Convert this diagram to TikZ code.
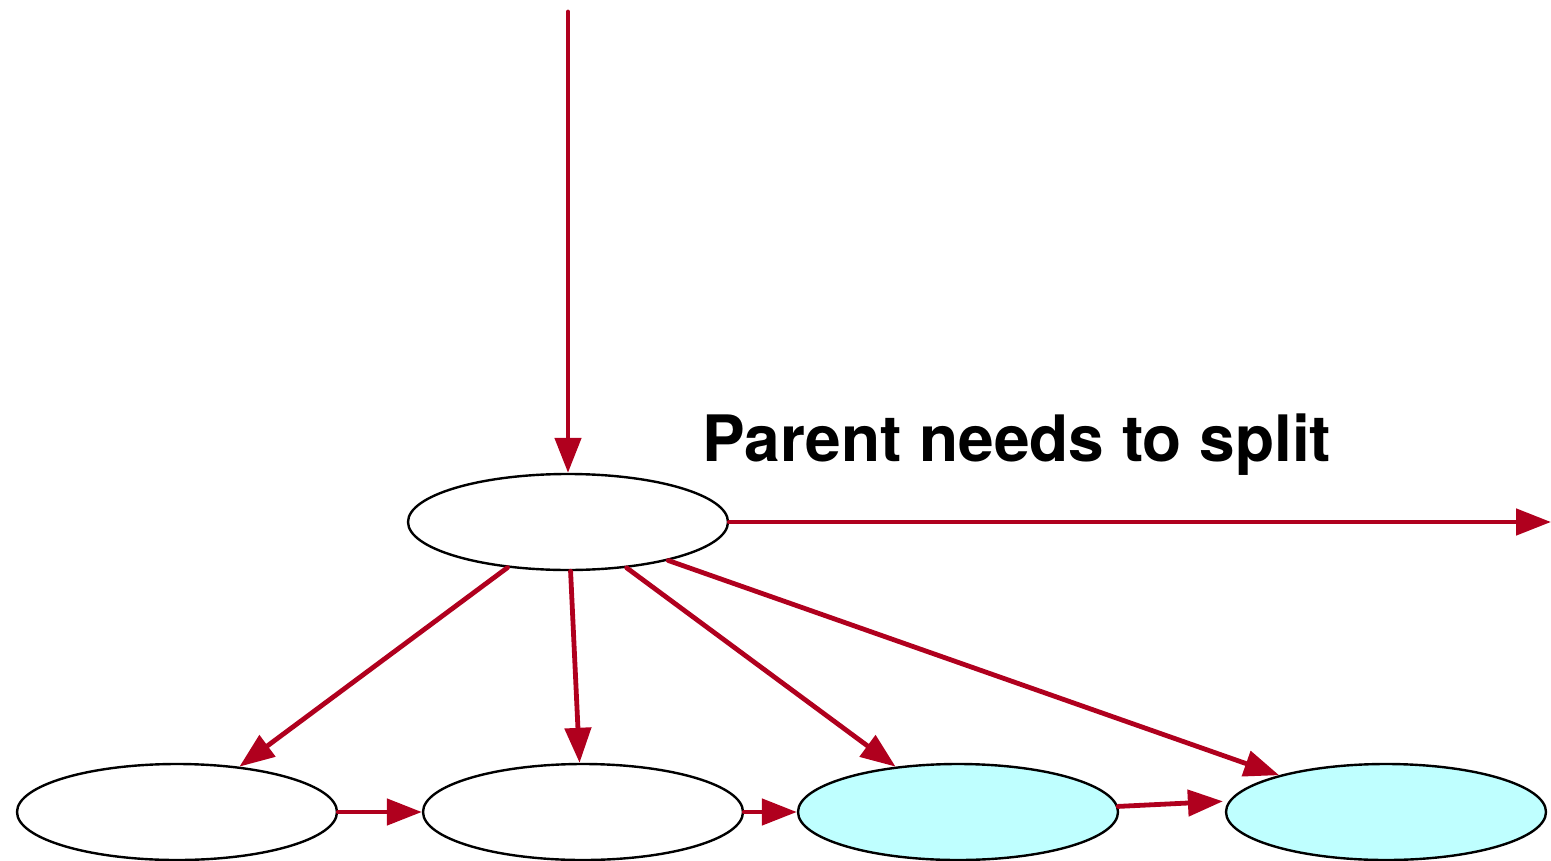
\documentclass[tikz,border=0pt]{standalone}
\usepackage{fontspec}
\setmainfont{TeX Gyre Heros}
\usetikzlibrary{shapes.geometric,arrows.meta}
\definecolor{linkred}{RGB}{176,0,30}
\definecolor{splitcyan}{RGB}{191,255,255}
\begin{document}
\begin{tikzpicture}[x=0.5pt,y=-0.5pt,
  keynode/.style={ellipse,draw=black,line width=1.2pt,minimum width=160pt,minimum height=48pt,inner sep=0pt},
  newnode/.style={keynode,fill=splitcyan},
  link/.style={draw=linkred,line width=2.4pt,line cap=round,-{Triangle[length=17.5pt,width=13pt]}},
  label/.style={font=\bfseries\fontsize{32}{38}\selectfont,anchor=base west,inner sep=0pt}]
\useasboundingbox (0,0) rectangle (1551,861);
% parent node and its four children
\node[keynode] (top) at (568,522) {};
\node[keynode] (e1) at (177,812) {};
\node[keynode] (e2) at (583,812) {};
\node[newnode] (e3) at (958,812) {};
\node[newnode] (e4) at (1386,812) {};
\coordinate (in) at (568,12);
\coordinate (out) at (1551,522);
\node[label] (cap) at (702,461) {Parent needs to split};
% incoming and outgoing pointers of the parent
\draw[link] (in) -- (top.north);
\draw[link] (top.east) -- (out);
% child pointers
\draw[link] (top.217.5) -- (e1.36);
\draw[link] (top.273.6) -- (e2.94);
\draw[link] (top.322.5) -- (e3.144);
\draw[link] (top.339.6) -- (e4.161);
% sibling links
\draw[link] (e1.east) -- (e2.west);
\draw[link] (e2.east) -- (e3.west);
\draw[link,shorten >=3pt] (e3.2.5) -- (e4.176);
\end{tikzpicture}
\end{document}
